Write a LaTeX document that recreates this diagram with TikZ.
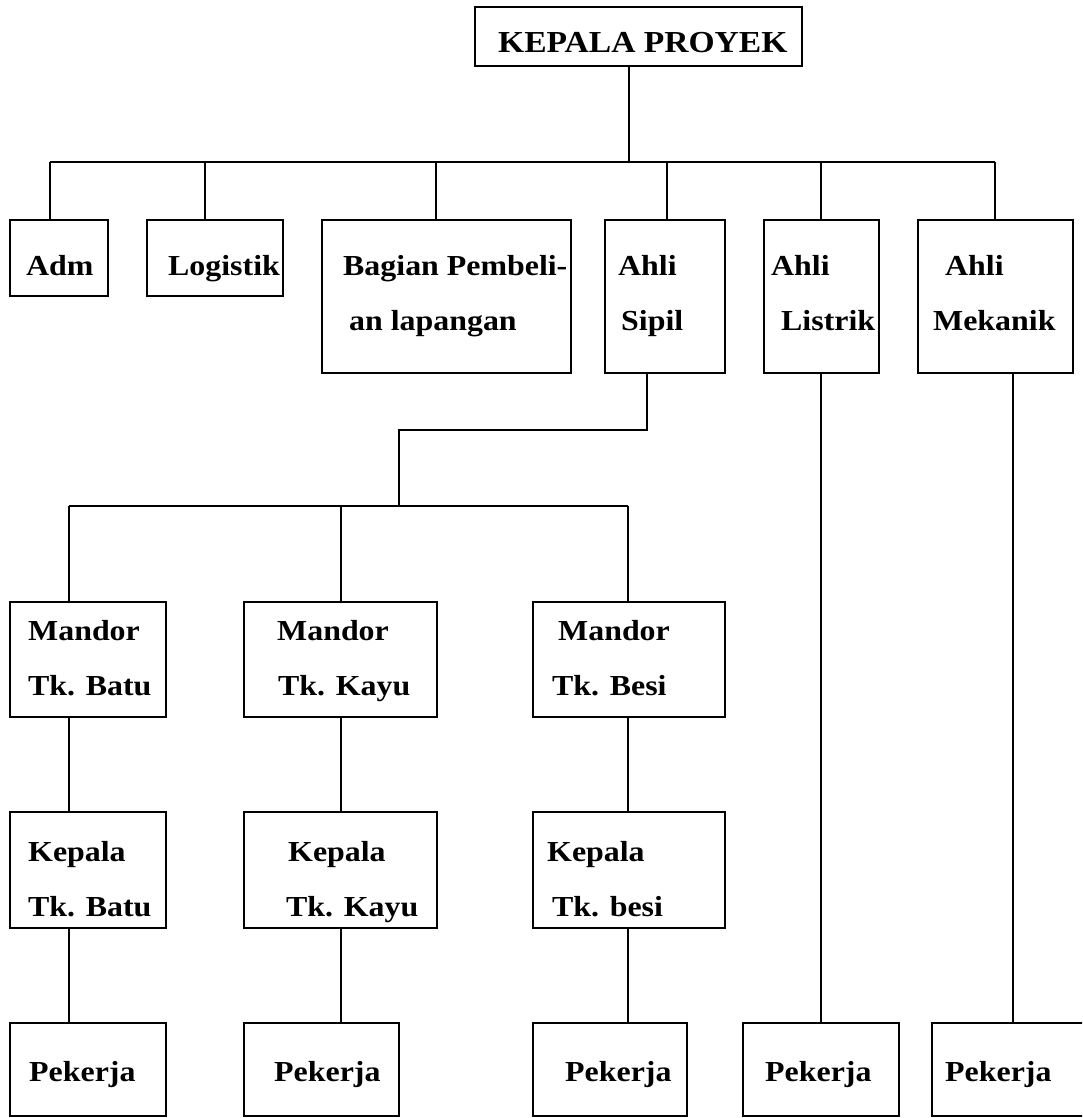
\documentclass[tikz,border=0pt]{standalone}
\usepackage{fontspec}
\setmainfont{Liberation Serif}[FakeStretch=1.1]
\begin{document}
\begin{tikzpicture}[x=1pt,y=-1pt,
  box/.style={draw=black, line width=1.7pt, rectangle, inner sep=0pt, outer sep=0pt},
  lbl/.style={font=\fontsize{29}{29}\selectfont\bfseries, inner sep=0pt, anchor=base west},
  toplbl/.style={font=\fontsize{30.5}{30.5}\selectfont\bfseries, inner sep=0pt, anchor=base west},
  conn/.style={line width=1.3pt, draw=black}]
\useasboundingbox (0,0) rectangle (1082,1118);
\clip (0,0) rectangle (1082,1118);
\fill[white] (0,0) rectangle (1082,1118);
% boxes
\node[box, minimum width=327pt, minimum height=59pt] (kp) at (638.5,36.5) {};
\node[box, minimum width=98pt, minimum height=76pt] (adm) at (59,258) {};
\node[box, minimum width=136pt, minimum height=76pt] (log) at (215,258) {};
\node[box, minimum width=249pt, minimum height=153pt] (bag) at (446.5,296.5) {};
\node[box, minimum width=120pt, minimum height=153pt] (sip) at (665,296.5) {};
\node[box, minimum width=115pt, minimum height=153pt] (lis) at (821.5,296.5) {};
\node[box, minimum width=155pt, minimum height=153pt] (mek) at (995.5,296.5) {};
\node[box, minimum width=156pt, minimum height=115pt] (mb1) at (88,659.5) {};
\node[box, minimum width=193pt, minimum height=115pt] (mb2) at (340.5,659.5) {};
\node[box, minimum width=192pt, minimum height=115pt] (mb3) at (629,659.5) {};
\node[box, minimum width=156pt, minimum height=116pt] (kb1) at (88,870) {};
\node[box, minimum width=193pt, minimum height=116pt] (kb2) at (340.5,870) {};
\node[box, minimum width=192pt, minimum height=116pt] (kb3) at (629,870) {};
\node[box, minimum width=156pt, minimum height=93pt] (pk1) at (88,1069.5) {};
\node[box, minimum width=155pt, minimum height=93pt] (pk2) at (321.5,1069.5) {};
\node[box, minimum width=154pt, minimum height=93pt] (pk3) at (610,1069.5) {};
\node[box, minimum width=156pt, minimum height=93pt] (pk4) at (821,1069.5) {};
\node[box, minimum width=170pt, minimum height=93pt] (pk5) at (1017,1069.5) {};
% labels
\node[toplbl] (tkp) at (498,53) {KEPALA PROYEK};
\node[lbl] (tadm) at (26,275) {Adm};
\node[lbl] (tlog) at (168,275) {Logistik};
\node[lbl] (tbag1) at (343,275) {Bagian Pembeli-};
\node[lbl] (tbag2) at (349,330) {an lapangan};
\node[lbl] (tsip1) at (618,275) {Ahli};
\node[lbl] (tsip2) at (621,330) {Sipil};
\node[lbl] (tlis1) at (771,275) {Ahli};
\node[lbl] (tlis2) at (781,330) {Listrik};
\node[lbl] (tmek1) at (945,275) {Ahli};
\node[lbl] (tmek2) at (933,330) {Mekanik};
\node[lbl] (tmb1a) at (28,640) {Mandor};
\node[lbl] (tmb1b) at (28,695) {Tk. Batu};
\node[lbl] (tmb2a) at (277,640) {Mandor};
\node[lbl] (tmb2b) at (278,695) {Tk. Kayu};
\node[lbl] (tmb3a) at (558,640) {Mandor};
\node[lbl] (tmb3b) at (552,695) {Tk. Besi};
\node[lbl] (tkb1a) at (28,861) {Kepala};
\node[lbl] (tkb1b) at (28,916) {Tk. Batu};
\node[lbl] (tkb2a) at (288,861) {Kepala};
\node[lbl] (tkb2b) at (286,916) {Tk. Kayu};
\node[lbl] (tkb3a) at (547,861) {Kepala};
\node[lbl] (tkb3b) at (552,916) {Tk. besi};
\node[lbl] (tpk1) at (29,1081) {Pekerja};
\node[lbl] (tpk2) at (274,1081) {Pekerja};
\node[lbl] (tpk3) at (565,1081) {Pekerja};
\node[lbl] (tpk4) at (765,1081) {Pekerja};
\node[lbl] (tpk5) at (945,1081) {Pekerja};
% junction coordinates
\coordinate (b0) at (629,162);
\coordinate (bL) at (50,162);
\coordinate (bR) at (995,162);
\coordinate (d2) at (205,162);
\coordinate (d3) at (436,162);
\coordinate (d4) at (667,162);
\coordinate (d5) at (821,162);
\coordinate (s1) at (647,430);
\coordinate (s2) at (399,430);
\coordinate (s3) at (399,506);
\coordinate (cL) at (69,506);
\coordinate (cM) at (341,506);
\coordinate (cR) at (628,506);
\coordinate (lx) at (821,0);
\coordinate (mx) at (1013,0);
% connectors
\draw[conn] (kp.south -| b0) -- (b0);
\draw[conn] (bL) -- (bR);
\draw[conn] (bL) -- (bL |- adm.north);
\draw[conn] (d2) -- (d2 |- log.north);
\draw[conn] (d3) -- (d3 |- bag.north);
\draw[conn] (d4) -- (d4 |- sip.north);
\draw[conn] (d5) -- (d5 |- lis.north);
\draw[conn] (bR) -- (bR |- mek.north);
\draw[conn] (sip.south -| s1) -- (s1) -- (s2) -- (s3);
\draw[conn] (cL) -- (cR);
\draw[conn] (cL) -- (cL |- mb1.north);
\draw[conn] (cM) -- (cM |- mb2.north);
\draw[conn] (cR) -- (cR |- mb3.north);
\draw[conn] (cL |- mb1.south) -- (cL |- kb1.north);
\draw[conn] (cM |- mb2.south) -- (cM |- kb2.north);
\draw[conn] (cR |- mb3.south) -- (cR |- kb3.north);
\draw[conn] (cL |- kb1.south) -- (cL |- pk1.north);
\draw[conn] (cM |- kb2.south) -- (cM |- pk2.north);
\draw[conn] (cR |- kb3.south) -- (cR |- pk3.north);
\draw[conn] (lis.south -| lx) -- (lx |- pk4.north);
\draw[conn] (mek.south -| mx) -- (mx |- pk5.north);
\end{tikzpicture}
\end{document}
